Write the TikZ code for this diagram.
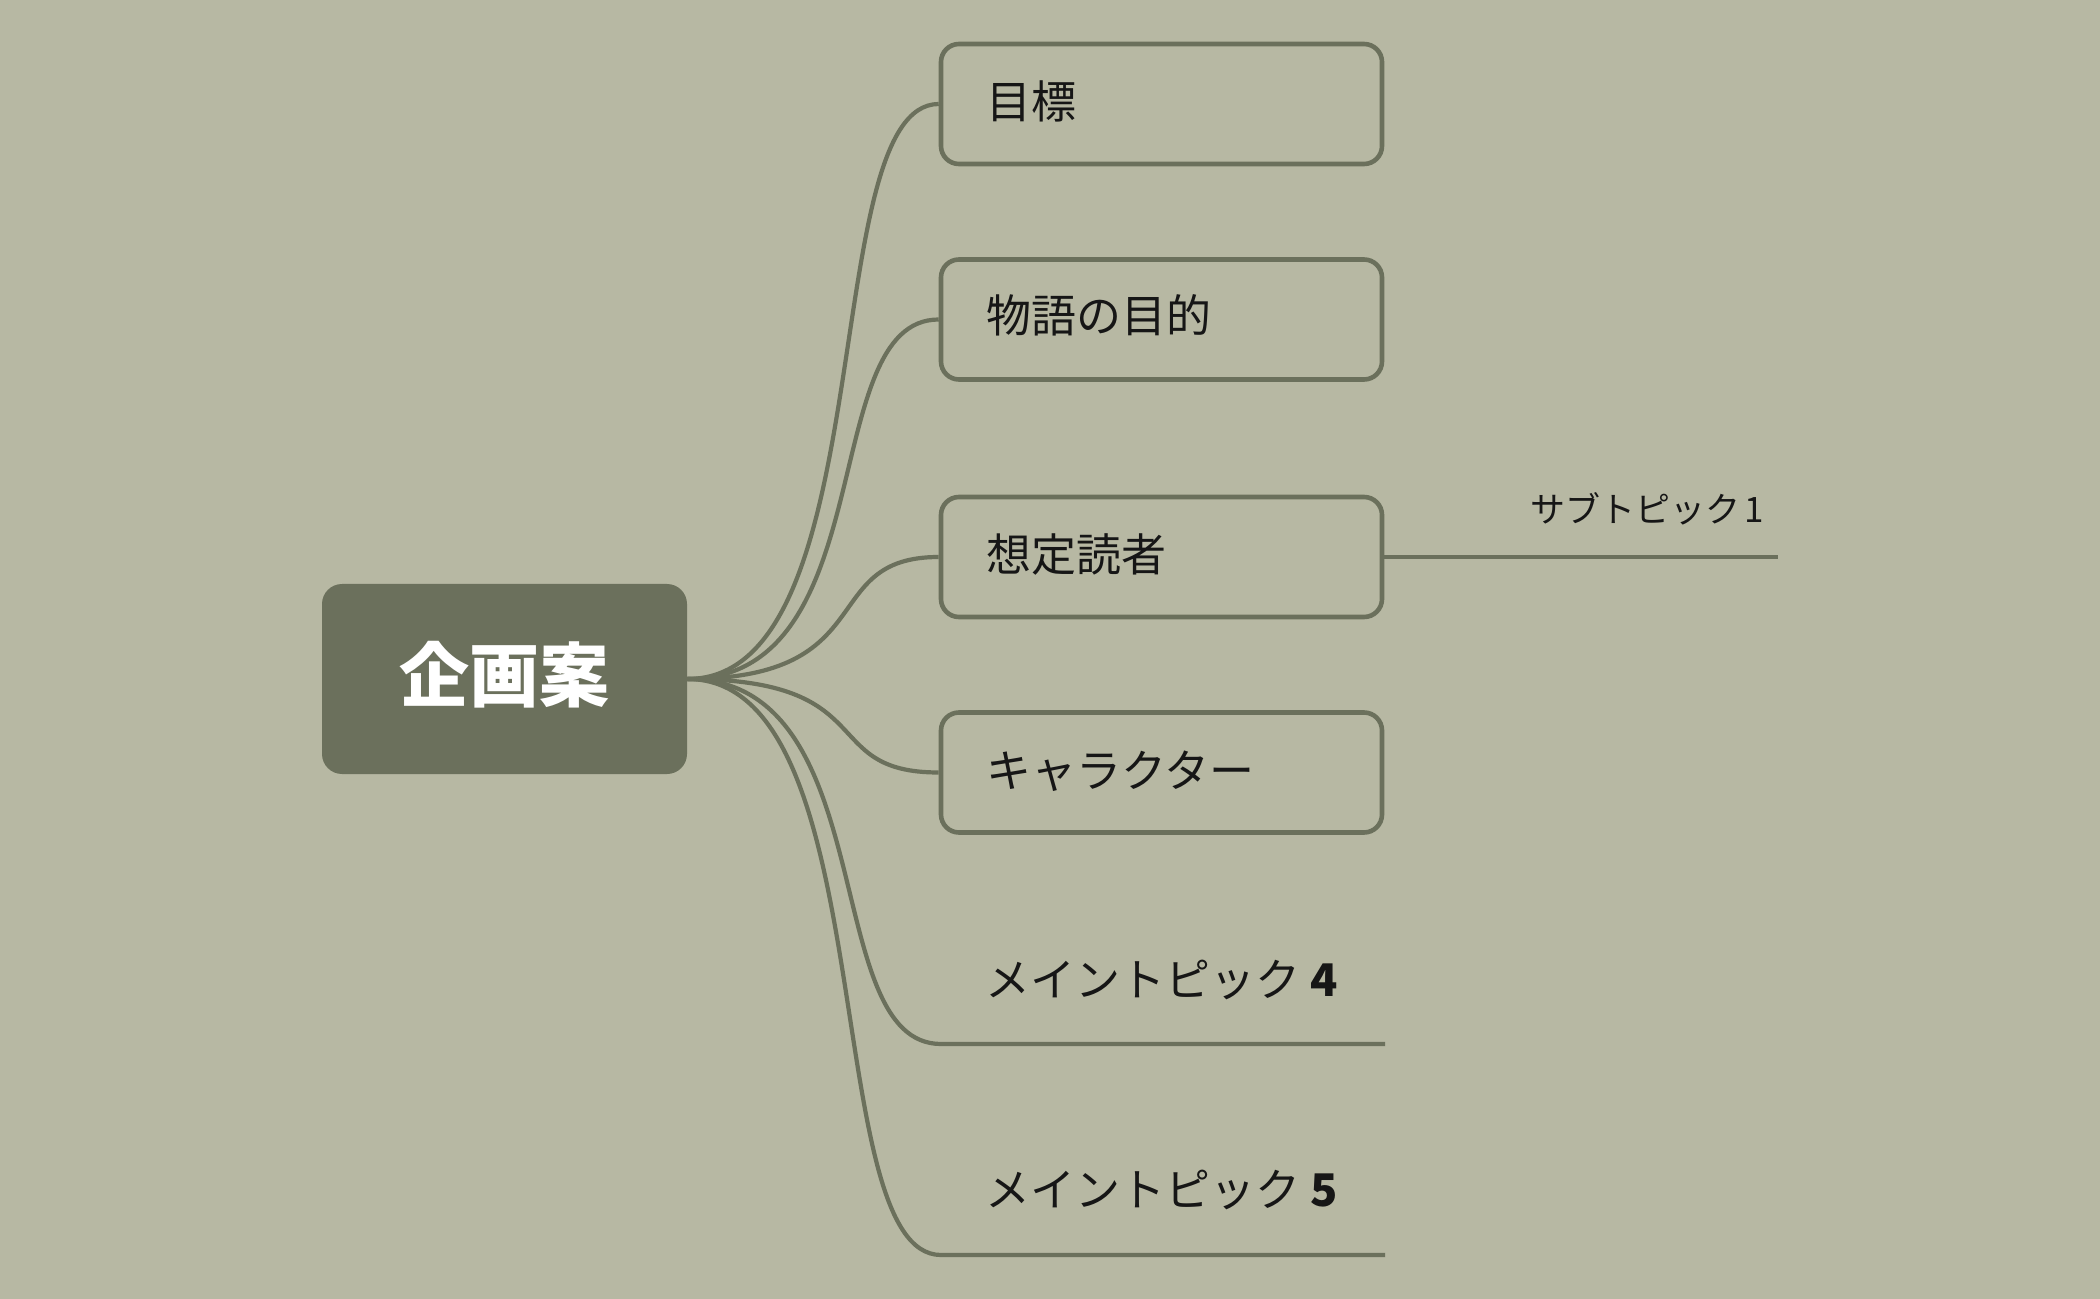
\documentclass[tikz,border=0pt]{standalone}
\usepackage{fontspec}
\newfontfamily\cjk{Noto Sans CJK JP}
\definecolor{bg}{HTML}{B7B8A3}
\definecolor{ln}{HTML}{6B705C}
\definecolor{tx}{HTML}{161616}
\begin{document}
\begin{tikzpicture}[x=0.5pt,y=-0.5pt,
  rootbox/.style={fill=ln, rounded corners=10pt, minimum width=182.5pt, minimum height=95pt, inner sep=0pt},
  topicbox/.style={draw=ln, line width=2.3pt, rounded corners=9pt, minimum width=220.5pt, minimum height=60pt, inner sep=0pt},
  mainlabel/.style={font=\cjk\fontsize{22.5pt}{26pt}\selectfont, text=tx, anchor=base west, inner sep=0pt},
  sublabel/.style={font=\cjk\fontsize{17.5pt}{20pt}\selectfont, text=tx, anchor=base west, inner sep=0pt},
  rootlabel/.style={font=\cjk\bfseries\fontsize{35pt}{40pt}\selectfont, text=white, anchor=base, inner sep=0pt},
  conn/.style={draw=ln, line width=2.1pt}
]
\fill[bg] (0,0) rectangle (2100,1299);
\useasboundingbox (0,0) rectangle (2100,1299);

\node[rootbox] (root) at (504.5,679) {};
\node[rootlabel] (rootl) at (504.5,701) {企画案};

\node[topicbox] (b1) at (1161.5,104) {};
\node[topicbox] (b2) at (1161.5,319.5) {};
\node[topicbox] (b3) at (1161.5,557) {};
\node[topicbox] (b4) at (1161.5,772.5) {};

\node[mainlabel] (t1) at (986,119) {目標};
\node[mainlabel] (t2) at (986,333) {物語の目的};
\node[mainlabel] (t3) at (986,572) {想定読者};
\node[mainlabel] (t4) at (986,787) {キャラクター};
\node[mainlabel] (t5) at (985,996) {メイントピック {\bfseries 4}};
\node[mainlabel] (t6) at (985,1206) {メイントピック {\bfseries 5}};
\node[sublabel] (st) at (1530,523) {サブトピック\kern2pt 1};

\coordinate (m4a) at (941,1044);
\coordinate (m4b) at (1385,1044);
\coordinate (m5a) at (941,1255);
\coordinate (m5b) at (1385,1255);
\coordinate (s1b) at (1778,557);

\draw[conn] (root.east) .. controls +(197,0) and +(-123,0) .. (b1.west);
\draw[conn] (root.east) .. controls +(197,0) and +(-123,0) .. (b2.west);
\draw[conn] (root.east) .. controls +(197,0) and +(-123,0) .. (b3.west);
\draw[conn] (root.east) .. controls +(197,0) and +(-123,0) .. (b4.west);
\draw[conn] (root.east) .. controls +(197,0) and +(-123,0) .. (m4a) -- (m4b);
\draw[conn] (root.east) .. controls +(197,0) and +(-123,0) .. (m5a) -- (m5b);
\draw[conn] (b3.east) -- (s1b);
\end{tikzpicture}
\end{document}
